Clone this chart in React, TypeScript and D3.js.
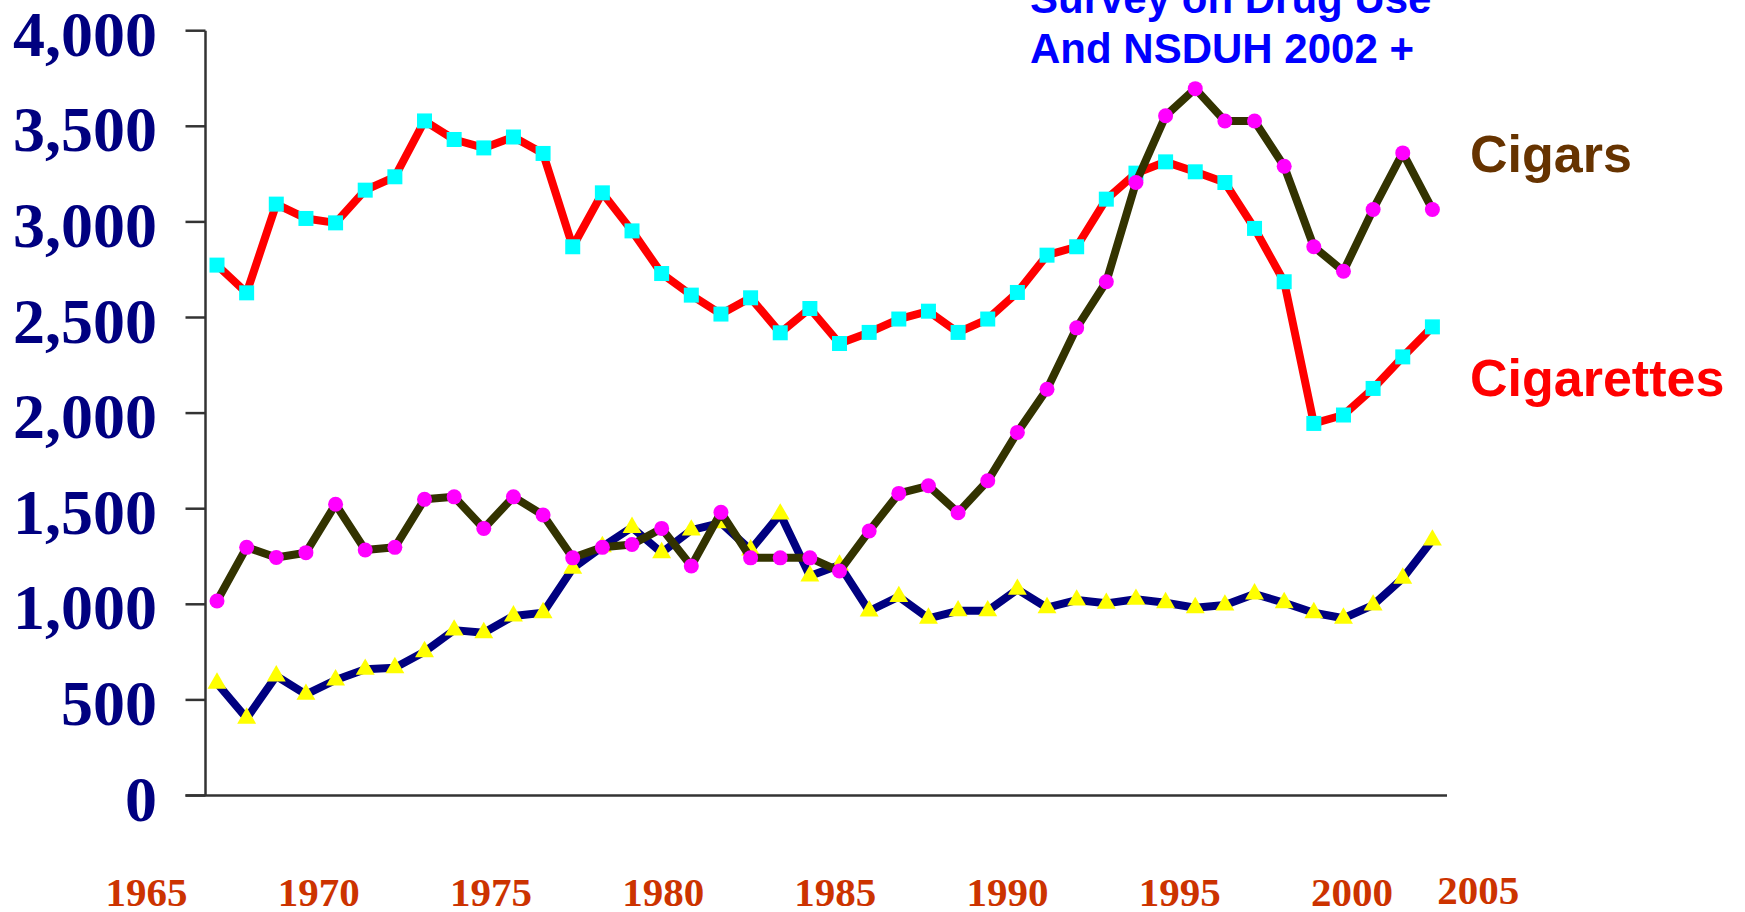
import * as d3 from "d3";

// one entry per survey year (42 points)
const years = [
  1963, 1964, 1965, 1966, 1967, 1968, 1969, 1970, 1971, 1972, 1973, 1974, 1975, 1976,
  1977, 1978, 1979, 1980, 1981, 1982, 1983, 1984, 1985, 1986, 1987, 1988, 1989, 1990,
  1991, 1992, 1993, 1994, 1995, 1996, 1997, 1998, 1999, 2000, 2001, 2002, 2003, 2004,
];

const cigarettes = [
  2774, 2629, 3093, 3018, 2995, 3166, 3236, 3528, 3431, 3387, 3444, 3358, 2870, 3152,
  2953, 2730, 2617, 2518, 2603, 2420, 2547, 2364, 2422, 2492, 2533, 2422, 2492, 2631,
  2826, 2870, 3119, 3255, 3314, 3262, 3206, 2966, 2687, 1946, 1990, 2129, 2294, 2451,
];

const cigars = [
  1017, 1298, 1245, 1270, 1523, 1284, 1298, 1549, 1562, 1397, 1562, 1467, 1243, 1298,
  1313, 1397, 1200, 1481, 1243, 1243, 1243, 1174, 1383, 1580, 1620, 1479, 1646, 1899,
  2125, 2446, 2687, 3206, 3555, 3697, 3528, 3528, 3291, 2870, 2742, 3065, 3361, 3065,
];

// unlabelled third series (navy line, yellow triangles)
const thirdSeries = [
  587, 404, 625, 529, 604, 660, 668, 752, 865, 851, 939, 956, 1188, 1301,
  1402, 1270, 1388, 1426, 1284, 1472, 1148, 1205, 965, 1040, 927, 966, 966, 1078,
  982, 1022, 1005, 1026, 1008, 982, 996, 1054, 1008, 956, 927, 996, 1136, 1336,
];

const yTicks = [0, 500, 1000, 1500, 2000, 2500, 3000, 3500, 4000];
const yearLabels = [1965, 1970, 1975, 1980, 1985, 1990, 1995, 2000, 2005];
const titleLines = ["Survey on Drug Use", "And NSDUH 2002 +"];

export default function App() {
  const width = 1745;
  const height = 912;

  const axisX = 205.5;
  const axisRight = 1447;

  const x = d3.scaleLinear().domain([years[0], years[years.length - 1]]).range([217, 1432.4]);
  const y = d3.scaleLinear().domain([0, 4000]).range([795.5, 30.7]);
  // the year captions were placed by hand in the original, not on the data grid
  const labelX = d3.scaleLinear().domain([1965, 2000]).range([146.5, 1352]);

  const line = (vals: number[]) =>
    d3.line<number>().x((_, i) => x(years[i])).y((d) => y(d))(vals) || "";

  const triangle = d3.symbol().type(d3.symbolTriangle).size(155)() || "";

  const serif = "'Liberation Serif', 'Times New Roman', serif";
  const sans = "'Liberation Sans', Arial, sans-serif";

  return (
    <svg
      width={width}
      height={height}
      style={{ position: "absolute", left: 0, top: 0, display: "block", background: "#fff" }}
    >
      {/* axes */}
      <line x1={axisX} x2={axisX} y1={y(4000)} y2={y(0)} stroke="#333" strokeWidth={2.5} />
      <line x1={axisX - 20} x2={axisRight} y1={y(0)} y2={y(0)} stroke="#333" strokeWidth={2.5} />
      {yTicks.map((t) => (
        <g key={t}>
          <line x1={axisX - 20} x2={axisX} y1={y(t)} y2={y(t)} stroke="#333" strokeWidth={2.5} />
          <text
            x={157}
            y={y(t) + 25}
            textAnchor="end"
            fontFamily={serif}
            fontWeight="bold"
            fontSize={64}
            fill="#000080"
          >
            {d3.format(",")(t)}
          </text>
        </g>
      ))}

      {yearLabels.map((yr) => (
        <text
          key={yr}
          x={yr === 2005 ? labelX(yr) - 46 : labelX(yr)}
          y={yr === 2005 ? 904 : 906}
          textAnchor="middle"
          fontFamily={serif}
          fontWeight="bold"
          fontSize={41}
          fill="#CC3300"
        >
          {yr}
        </text>
      ))}

      {/* cigarettes */}
      <path d={line(cigarettes)} fill="none" stroke="#FF0000" strokeWidth={8} strokeLinejoin="round" />
      {cigarettes.map((v, i) => (
        <rect key={i} x={x(years[i]) - 7.5} y={y(v) - 7.5} width={15} height={15} fill="#00FFFF" />
      ))}

      {/* third series */}
      <path d={line(thirdSeries)} fill="none" stroke="#000080" strokeWidth={8} strokeLinejoin="round" />
      {thirdSeries.map((v, i) => (
        <path key={i} d={triangle} transform={`translate(${x(years[i])},${y(v)})`} fill="#FFFF00" />
      ))}

      {/* cigars */}
      <path d={line(cigars)} fill="none" stroke="#333300" strokeWidth={8} strokeLinejoin="round" />
      {cigars.map((v, i) => (
        <circle key={i} cx={x(years[i])} cy={y(v)} r={7.5} fill="#FF00FF" />
      ))}

      {/* annotations */}
      {titleLines.map((t, i) => (
        <text key={t} x={1030} y={13 + i * 50} fontFamily={sans} fontWeight="bold" fontSize={42} fill="#0000FF">
          {t}
        </text>
      ))}
      <text x={1470} y={172} fontFamily={sans} fontWeight="bold" fontSize={52} fill="#663300">
        Cigars
      </text>
      <text x={1470} y={396} fontFamily={sans} fontWeight="bold" fontSize={52} fill="#FF0000">
        Cigarettes
      </text>
    </svg>
  );
}
